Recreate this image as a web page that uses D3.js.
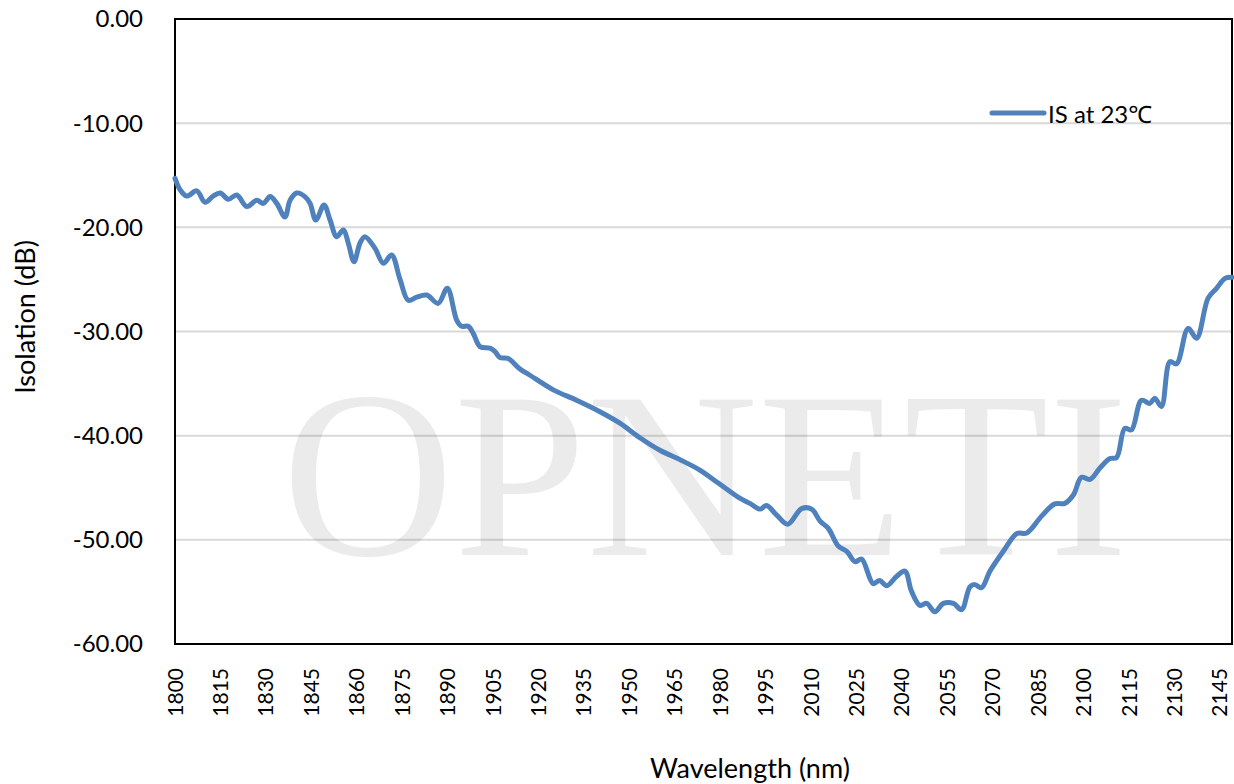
<!DOCTYPE html>
<html>
<head>
<meta charset="utf-8">
<script src="https://cdn.jsdelivr.net/npm/d3@7"></script>
<style>
  body { margin: 0; background: #fff; }
  text { font-family: Lato, "Noto Sans", sans-serif; fill: #000; }
</style>
</head>
<body>
<svg id="chart"></svg>
<script>
// wavelength (nm) and isolation (dB)
var wavelength = [1800, 1801.7, 1803.9, 1807.2, 1809.9, 1812.6, 1814.9, 1817.6, 1820.4, 1823.7,
  1827, 1829.2, 1831.4, 1833.6, 1836.3, 1838, 1840.2, 1842.9, 1844.6, 1846.5,
  1849.2, 1851.2, 1853.4, 1855.6, 1857.2, 1859.1, 1861.1, 1862.7, 1866, 1868.8,
  1871.5, 1874.3, 1877, 1879.8, 1883.1, 1886.9, 1889.9, 1893, 1894.6, 1896.8,
  1898.5, 1900.7, 1904, 1905.6, 1907.3, 1910, 1913.9, 1917.2, 1924.9, 1932.6,
  1940.3, 1946.9, 1953.5, 1960.1, 1966.7, 1973.3, 1977.7, 1982, 1986.5, 1989.8,
  1993.2, 1995.3, 1998.6, 2002.3, 2006.9, 2010.2, 2013, 2015.7, 2019, 2021.8,
  2024.5, 2026.7, 2030.5, 2032.7, 2035, 2038.3, 2041, 2043.2, 2046, 2048.2,
  2050.9, 2053.7, 2057, 2059.7, 2062.5, 2064.1, 2066.3, 2069.1, 2073.5, 2078,
  2081.2, 2086.2, 2090.5, 2093.8, 2096.6, 2099.3, 2102.1, 2105.4, 2108.7, 2110.9,
  2113.6, 2115.8, 2119.1, 2121.9, 2123.5, 2125.7, 2128.5, 2130.7, 2134.5, 2137.3,
  2141.1, 2143.9, 2146.7, 2149];
var isolation = [-15.3, -16.4, -17.0, -16.5, -17.6, -17.0, -16.7, -17.3, -16.9, -18.0,
  -17.4, -17.7, -17.05, -17.7, -19.0, -17.4, -16.7, -17.05, -17.7, -19.3,
  -17.85, -19.3, -20.9, -20.25, -21.5, -23.3, -21.5, -20.9, -22.0, -23.45,
  -22.65, -25.0, -27.0, -26.7, -26.5, -27.3, -25.85, -28.9, -29.5, -29.5,
  -30.2, -31.45, -31.6, -31.9, -32.5, -32.6, -33.6, -34.2, -35.6, -36.6,
  -37.7, -38.8, -40.2, -41.4, -42.3, -43.3, -44.2, -45.1, -46.0, -46.5,
  -47.05, -46.7, -47.6, -48.5, -47.0, -47.05, -48.2, -48.9, -50.6, -51.1,
  -52.1, -51.85, -54.2, -53.9, -54.4, -53.5, -53.0, -54.95, -56.3, -56.1,
  -56.9, -56.1, -56.1, -56.7, -54.5, -54.3, -54.6, -53.0, -51.1, -49.4,
  -49.35, -47.7, -46.55, -46.5, -45.7, -44.0, -44.2, -43.1, -42.2, -42.1,
  -39.3, -39.45, -36.6, -36.9, -36.4, -37.2, -32.9, -33.1, -29.7, -30.65,
  -26.8, -25.85, -24.9, -24.8];
var xTicks = d3.range(1800, 2146, 15);
var yTicks = [0, -10, -20, -30, -40, -50, -60];
var seriesName = 'IS at 23\u2103';

var W = 1234, H = 784;
var svg = d3.select('#chart').attr('width', W).attr('height', H);
var plotL = 175, plotR = 1232, plotT = 19, plotB = 644;

var x = d3.scaleLinear().domain([1800, 2149]).range([plotL, plotR]);
var y = d3.scaleLinear().domain([-60, 0]).range([plotB, plotT]);

// gridlines
svg.append('g').selectAll('line').data(yTicks.slice(1, -1)).enter().append('line')
  .attr('x1', plotL).attr('x2', plotR)
  .attr('y1', function(d){return y(d);}).attr('y2', function(d){return y(d);})
  .attr('stroke', '#d9d9d9').attr('stroke-width', 2);

// watermark
svg.append('text').attr('x', 705).attr('y', 555).attr('text-anchor', 'middle')
  .style('font-family', '"Liberation Serif", "DejaVu Serif", serif')
  .style('font-size', '238px').style('fill', '#000').style('fill-opacity', 0.08)
  .text('OPNETI');

// frame
svg.append('rect').attr('x', plotL).attr('y', plotT).attr('width', plotR - plotL).attr('height', plotB - plotT)
  .attr('fill', 'none').attr('stroke', '#000').attr('stroke-width', 2);

// y labels
svg.append('g').selectAll('text').data(yTicks).enter().append('text')
  .attr('x', 143).attr('y', function(d){return y(d);}).attr('dy', '0.35em')
  .attr('text-anchor', 'end').style('font-size', '24px')
  .text(function(d){return d3.format('.2f')(d).replace('\u2212', '-');});

// x labels (rotated)
svg.append('g').selectAll('text').data(xTicks).enter().append('text')
  .attr('transform', function(d){return 'translate(' + x(d) + ',668) rotate(-90)';})
  .attr('dy', '0.36em').attr('text-anchor', 'end').style('font-size', '21px')
  .text(function(d){return d;});

// axis titles
svg.append('text').attr('transform', 'translate(35,317) rotate(-90)').attr('text-anchor', 'middle')
  .style('font-size', '27px').text('Isolation (dB)');
svg.append('text').attr('x', 750).attr('y', 778).attr('text-anchor', 'middle')
  .style('font-size', '27px').text('Wavelength (nm)');

// series
var pts = wavelength.map(function(w, i){return [w, isolation[i]];});
var line = d3.line().x(function(d){return x(d[0]);}).y(function(d){return y(d[1]);})
  .curve(d3.curveCatmullRom.alpha(0.5));
svg.append('path').datum(pts).attr('d', line)
  .attr('fill', 'none').attr('stroke', '#4f81bd').attr('stroke-width', 5)
  .attr('stroke-linejoin', 'round').attr('stroke-linecap', 'round');

// legend
svg.append('line').attr('x1', 992).attr('x2', 1044).attr('y1', 113).attr('y2', 113)
  .attr('stroke', '#4f81bd').attr('stroke-width', 5).attr('stroke-linecap', 'round');
svg.append('text').attr('x', 1048).attr('y', 123).style('font-size', '24px').text(seriesName);
</script>
</body>
</html>
